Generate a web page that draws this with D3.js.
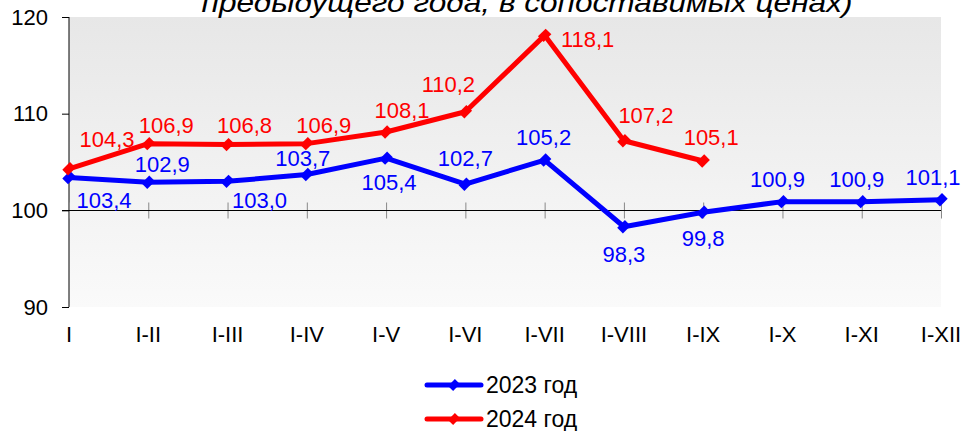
<!DOCTYPE html>
<html><head><meta charset="utf-8">
<script src="https://cdn.jsdelivr.net/npm/d3@7"></script>
<style>body{margin:0;background:#fff}svg{display:block;font-family:Arial,"Liberation Sans",sans-serif}</style>
</head><body>
<svg id="c" width="962" height="431"></svg>
<script>
const categories = ["I","I-II","I-III","I-IV","I-V","I-VI","I-VII","I-VIII","I-IX","I-X","I-XI","I-XII"];
const values2023 = [103.4,102.9,103.0,103.7,105.4,102.7,105.2,98.3,99.8,100.9,100.9,101.1];
const values2024 = [104.3,106.9,106.8,106.9,108.1,110.2,118.1,107.2,105.1];
const seriesNames = ["2023 год","2024 год"];
const yTicks = [90,100,110,120];
const titleText = "предыдущего года, в сопоставимых ценах)";
// label offsets (px) relative to each point, used only for placement of value labels
const labelOffsets2023 = [[35,23],[14,-18],[32,19],[-4,-16],[3,24],[0,-26],[-1,-23],[0,27],[0,26],[-5,-23],[-5,-23],[-8,-23]];
const labelOffsets2024 = [[38,-30],[18,-19],[17,-20],[17,-19],[16,-22],[-17,-28],[43,4],[22,-26],[8,-24]];

const svg = d3.select("#c");
const m = {l:69, r:941, t:17, b:307};
const x = d3.scalePoint().domain(categories).range([m.l, m.r]);
const y = d3.scaleLinear().domain([90,120]).range([m.b, m.t]);

const defs = svg.append("defs");
const g = defs.append("linearGradient").attr("id","bg").attr("x1",0).attr("y1",0).attr("x2",0).attr("y2",1);
g.append("stop").attr("offset","0%").attr("stop-color","#e7e7e7");
g.append("stop").attr("offset","100%").attr("stop-color","#fafafa");

svg.append("rect").attr("x",m.l).attr("y",m.t).attr("width",m.r-m.l).attr("height",m.b-m.t).attr("fill","url(#bg)");

// title (partly clipped at top, as in the reference)
svg.append("text").attr("x",527).attr("y",12).attr("text-anchor","middle")
  .attr("font-size",28).attr("font-style","italic").attr("textLength",651).attr("lengthAdjust","spacingAndGlyphs")
  .text(titleText);

// y axis
const yAxis = d3.axisLeft(y).tickValues(yTicks).tickSize(7).tickPadding(14).tickFormat(d3.format("d"));
const ya = svg.append("g").attr("transform",`translate(${m.l},0)`).call(yAxis);
ya.select(".domain").attr("stroke","#000").attr("d",`M-0.5,${m.t}V${m.b}`).attr("transform","translate(0.5,0)");
ya.selectAll(".tick line").attr("stroke","#000");
ya.selectAll(".tick text").attr("font-size",22).attr("fill","#000").attr("font-family","Arial,'Liberation Sans',sans-serif");

// x axis at 100 with cross ticks
const xAxis = d3.axisBottom(x).tickSize(0).tickFormat(()=>"");
const xa = svg.append("g").attr("transform",`translate(0,${Math.round(y(100))+0.5})`).call(xAxis);
xa.select(".domain").remove();
xa.append("line").attr("x1",m.l-7).attr("x2",m.r).attr("stroke","#000");
xa.selectAll(".tick").append("line").attr("y1",-8).attr("y2",8).attr("stroke","#888");
// x labels low
svg.append("g").selectAll("text").data(categories).join("text")
  .attr("x",d=>x(d)).attr("y",342).attr("text-anchor","middle").attr("font-size",22).text(d=>d);

const line = d3.line().x((d,i)=>x(categories[i])).y(d=>y(d));
const fmt = v => d3.format(".1f")(v).replace(".",",");

function drawSeries(vals, color, offs){
  const gs = svg.append("g");
  gs.append("path").datum(vals).attr("d",line).attr("fill","none").attr("stroke",color).attr("stroke-width",5).attr("stroke-linejoin","round");
  gs.selectAll("path.m").data(vals).join("path").attr("class","m")
    .attr("d",d3.symbol().type(d3.symbolSquare).size(90)).attr("fill",color)
    .attr("transform",(d,i)=>`translate(${x(categories[i])},${y(d)}) rotate(45) scale(0.85,1.15)`);
  gs.selectAll("text").data(vals).join("text")
    .attr("x",(d,i)=>x(categories[i])+offs[i][0]).attr("y",(d,i)=>y(d)+offs[i][1])
    .attr("dy","0.36em").attr("text-anchor","middle").attr("font-size",22).attr("fill",color).text(fmt);
}
drawSeries(values2023,"#0000ff",labelOffsets2023);
drawSeries(values2024,"#ff0000",labelOffsets2024);

// legend
const colors = ["#0000ff","#ff0000"];
const lg = svg.append("g").selectAll("g").data(seriesNames).join("g")
  .attr("transform",(d,i)=>`translate(0,${385+i*34})`);
lg.append("line").attr("x1",427).attr("x2",481).attr("stroke",(d,i)=>colors[i]).attr("stroke-width",5).attr("stroke-linecap","round");
lg.append("path").attr("d",d3.symbol().type(d3.symbolSquare).size(70)).attr("fill",(d,i)=>colors[i])
  .attr("transform","translate(454,0) rotate(45) scale(0.85,1.15)");
lg.append("text").attr("x",486).attr("y",0).attr("dy","0.36em").attr("font-size",23).text(d=>d);
</script>
</body></html>
